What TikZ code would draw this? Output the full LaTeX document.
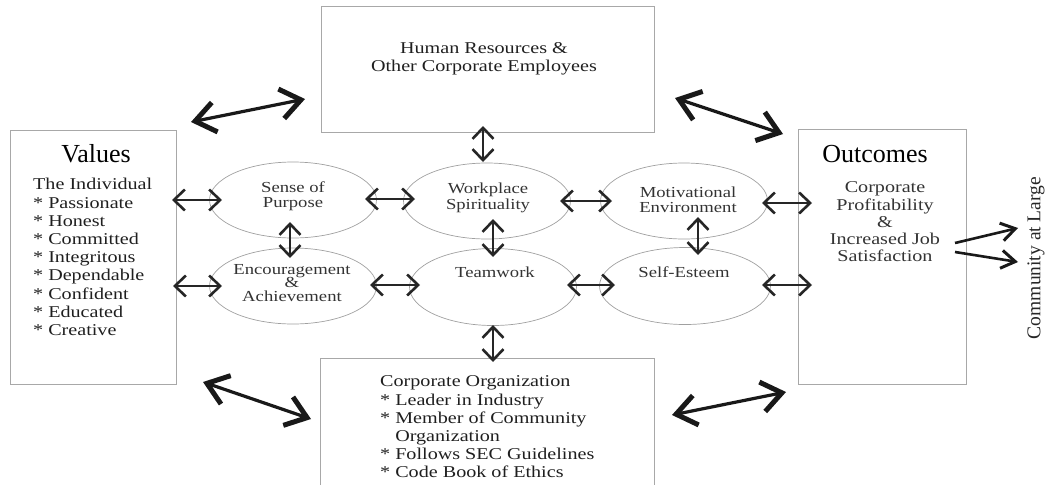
\documentclass[tikz,border=0pt]{standalone}
\usepackage{fontspec}
\setmainfont{Liberation Serif}
\newfontfamily\bodyfont{Liberation Serif}[FakeStretch=1.22]
\usetikzlibrary{arrows.meta,shapes.geometric}
\definecolor{boxgray}{HTML}{A8A8A8}
\definecolor{ellgray}{HTML}{A0A0A0}
\definecolor{txtgray}{HTML}{333333}
\tikzset{
  box/.style={draw=boxgray,line width=1pt,rectangle,inner sep=0pt},
  ell/.style={draw=ellgray,line width=0.7pt,ellipse,inner sep=0pt},
  title/.style={font=\fontsize{26}{30}\selectfont,inner sep=0pt},
  boxtxt/.style={font=\bodyfont\fontsize{16.5}{18.2}\selectfont,inner sep=0pt,text=black!88},
  elltxt/.style={font=\bodyfont\fontsize{15.3}{15.5}\selectfont,inner sep=0pt,text=txtgray,align=center},
  sa/.style={line width=2.3pt,black!85,{Straight Barb[length=11pt,width=21pt,line width=2.6pt]}-{Straight Barb[length=11pt,width=21pt,line width=2.6pt]}},
  ba/.style={line width=3.2pt,black!90,{Straight Barb[length=20pt,width=30pt,line width=5pt]}-{Straight Barb[length=20pt,width=30pt,line width=5pt]}},
  ca/.style={line width=2.6pt,black!90,-{Straight Barb[length=14pt,width=18pt,line width=3pt]}},
}
\begin{document}
\begin{tikzpicture}[x=1pt,y=-1pt]
\useasboundingbox (0,0) rectangle (1048,485);
% boxes
\node[box,minimum width=166pt,minimum height=254pt] (values) at (93,257) {};
\node[box,minimum width=333pt,minimum height=126pt] (top) at (487.5,69) {};
\node[box,minimum width=168pt,minimum height=255pt] (outc) at (882,256.5) {};
\node[inner sep=0pt,minimum width=333pt,minimum height=126pt] (bot) at (487.5,422) {};
\draw[boxgray,line width=1pt] (bot.south west) -- (bot.north west) -- (bot.north east) -- (bot.south east);
% ellipses
\node[ell,minimum width=167pt,minimum height=76pt] (sense) at (293,200) {};
\node[ell,minimum width=167pt,minimum height=76pt] (enc) at (293,286) {};
\node[ell,minimum width=167pt,minimum height=76pt] (work) at (487,201) {};
\node[ell,minimum width=167pt,minimum height=77pt] (team) at (493,287) {};
\node[ell,minimum width=167pt,minimum height=76pt] (motiv) at (684,201) {};
\node[ell,minimum width=171pt,minimum height=77pt] (self) at (685,286) {};
% texts
\node[title] (valt) at (96,154) {Values};
\node[boxtxt,anchor=west,align=left] (vall) at (33,257) {The Individual\\* Passionate\\* Honest\\* Committed\\* Integritous\\* Dependable\\* Confident\\* Educated\\* Creative};
\node[title] (outt) at (875,154) {Outcomes};
\node[boxtxt,align=center,text=txtgray,font=\bodyfont\fontsize{16.5}{17.3}\selectfont] (outl) at (885,222) {Corporate\\Profitability\\\&\\Increased Job\\Satisfaction};
\node[boxtxt,align=center] (topt) at (484,59) {Human Resources \&\\Other Corporate Employees};
\node[boxtxt,anchor=west,align=left] (bott) at (380,427) {Corporate Organization\\* Leader in Industry\\* Member of Community\\\phantom{* }Organization\\* Follows SEC Guidelines\\* Code Book of Ethics};
\node[elltxt] (senset) at (293,196) {Sense of\\Purpose};
\node[elltxt] (workt) at (488,198) {Workplace\\Spirituality};
\node[elltxt] (motivt) at (688,200) {Motivational\\Environment};
\node[elltxt,font=\bodyfont\fontsize{15.3}{13.5}\selectfont] (enct) at (292,283) {Encouragement\\\&\\Achievement};
\node[elltxt] (teamt) at (495,272) {Teamwork};
\node[elltxt] (selft) at (684,272) {Self-Esteem};
\node[font=\fontsize{19.5}{22}\selectfont,rotate=90,inner sep=0pt,text=black!85] (comm) at (1036,258) {Community at Large};
% coordinates for connector ends
\coordinate (c1a) at (172,200); \coordinate (c1b) at (222,200);
\coordinate (c2a) at (173,286); \coordinate (c2b) at (222,286);
\coordinate (c3a) at (365,199); \coordinate (c3b) at (415,199);
\coordinate (c4a) at (370,285); \coordinate (c4b) at (420,285);
\coordinate (c5a) at (560,201); \coordinate (c5b) at (612,201);
\coordinate (c6a) at (567,285); \coordinate (c6b) at (615,285);
\coordinate (c7a) at (762,203); \coordinate (c7b) at (812,203);
\coordinate (c8a) at (762,285); \coordinate (c8b) at (812,285);
\coordinate (v1a) at (483,126); \coordinate (v1b) at (483,162);
\coordinate (v2a) at (493,219); \coordinate (v2b) at (493,257);
\coordinate (v3a) at (493,325); \coordinate (v3b) at (493,362);
\coordinate (v4a) at (290,222); \coordinate (v4b) at (290,258);
\coordinate (v5a) at (698,217); \coordinate (v5b) at (698,255);
\coordinate (d1a) at (191,122); \coordinate (d1b) at (305,99);
\coordinate (d2a) at (675,98); \coordinate (d2b) at (783,134);
\coordinate (d3a) at (203,382); \coordinate (d3b) at (311,419);
\coordinate (d4a) at (672,415); \coordinate (d4b) at (786,392);
\coordinate (o1) at (955,243); \coordinate (o2) at (955,252);
\coordinate (k1) at (1018,228); \coordinate (k2) at (1018,262);
% connectors
\foreach \a/\b in {c1a/c1b,c2a/c2b,c3a/c3b,c4a/c4b,c5a/c5b,c6a/c6b,c7a/c7b,c8a/c8b,v1a/v1b,v2a/v2b,v3a/v3b,v4a/v4b,v5a/v5b}
  \draw[sa] (\a) -- (\b);
\foreach \a/\b in {d1a/d1b,d2a/d2b,d3a/d3b,d4a/d4b}
  \draw[ba] (\a) -- (\b);
\draw[ca] (o1) -- (k1);
\draw[ca] (o2) -- (k2);
\end{tikzpicture}
\end{document}
